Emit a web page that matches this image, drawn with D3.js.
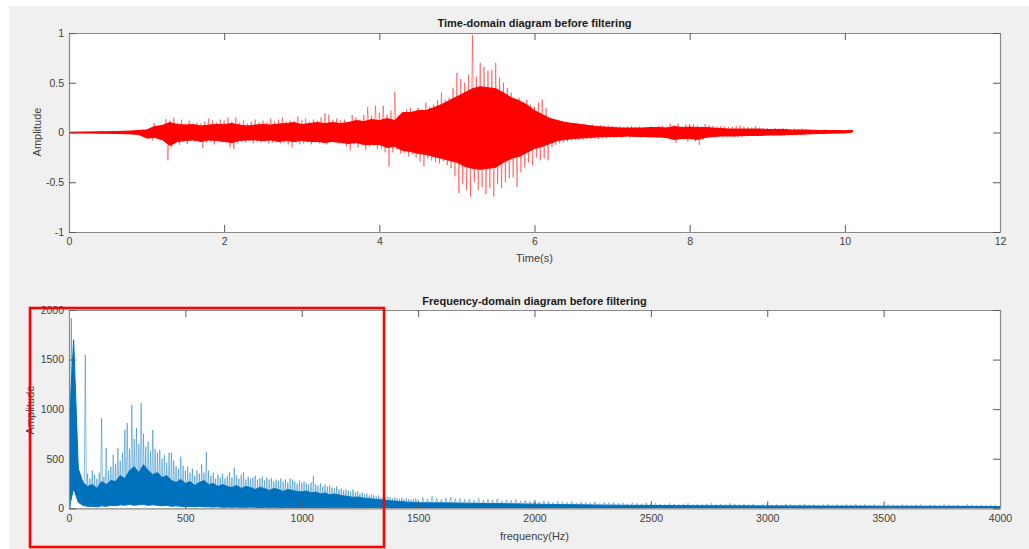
<!DOCTYPE html>
<html>
<head>
<meta charset="utf-8">
<script src="https://cdn.jsdelivr.net/npm/d3@7"></script>
<style>
  html, body { margin: 0; padding: 0; background: #ffffff; }
  svg { display: block; font-family: "Liberation Sans", Arial, sans-serif; }
</style>
</head>
<body>
<svg id="chart" width="1029" height="549"></svg>
<script>
// ---------------- DATA ----------------
const timeTitle = "Time-domain diagram before filtering";
const freqTitle = "Frequency-domain diagram before filtering";
const timeXTicks = [0, 2, 4, 6, 8, 10, 12];
const timeYTicks = [-1, -0.5, 0, 0.5, 1];
const freqXTicks = [0, 500, 1000, 1500, 2000, 2500, 3000, 3500, 4000];
const freqYTicks = [0, 500, 1000, 1500, 2000];

// time signal, sampled every 0.05 s from 0 to 10.1 s: local max / local min (spikes)
const timeStep = 0.05;
const timeUpper = [
  0.003,0.004,0.004,0.005,0.006,0.007,0.008,0.008,0.009,0.010,
  0.010,0.011,0.012,0.013,0.014,0.016,0.018,0.022,0.030,0.035,
  0.030,0.020,0.095,0.060,0.080,0.135,0.120,0.150,0.100,0.130,
  0.090,0.120,0.080,0.100,0.090,0.110,0.140,0.120,0.100,0.130,
  0.120,0.150,0.110,0.150,0.100,0.120,0.090,0.110,0.130,0.100,
  0.120,0.100,0.140,0.110,0.130,0.150,0.110,0.120,0.110,0.160,
  0.120,0.140,0.110,0.130,0.120,0.150,0.195,0.180,0.130,0.140,
  0.120,0.130,0.100,0.175,0.150,0.130,0.180,0.255,0.170,0.270,
  0.200,0.270,0.180,0.220,0.410,0.170,0.200,0.230,0.250,0.210,
  0.250,0.230,0.300,0.260,0.280,0.330,0.400,0.330,0.350,0.450,
  0.600,0.540,0.500,0.580,0.980,0.560,0.700,0.660,0.620,0.630,
  0.700,0.550,0.500,0.450,0.400,0.320,0.350,0.300,0.330,0.280,
  0.260,0.300,0.330,0.250,0.150,0.120,0.130,0.100,0.110,0.095,
  0.090,0.095,0.080,0.085,0.075,0.080,0.070,0.075,0.065,0.070,
  0.065,0.060,0.065,0.055,0.060,0.065,0.055,0.060,0.050,0.055,
  0.060,0.055,0.065,0.070,0.060,0.090,0.070,0.090,0.060,0.080,
  0.085,0.080,0.070,0.060,0.085,0.075,0.065,0.060,0.065,0.060,
  0.055,0.060,0.065,0.070,0.060,0.055,0.050,0.065,0.050,0.045,
  0.045,0.040,0.045,0.040,0.045,0.040,0.035,0.040,0.035,0.040,
  0.030,0.025,0.030,0.025,0.025,0.030,0.025,0.020,0.025,0.020,
  0.020,0.025,0.025
];
const timeLower = [
  -0.003,-0.004,-0.004,-0.005,-0.006,-0.006,-0.007,-0.008,-0.009,-0.010,
  -0.010,-0.011,-0.012,-0.013,-0.014,-0.015,-0.017,-0.020,-0.025,-0.035,
  -0.060,-0.080,-0.050,-0.080,-0.070,-0.280,-0.150,-0.060,-0.125,-0.090,
  -0.115,-0.070,-0.090,-0.070,-0.155,-0.100,-0.090,-0.120,-0.080,-0.100,
  -0.100,-0.150,-0.170,-0.110,-0.090,-0.100,-0.080,-0.110,-0.090,-0.100,
  -0.090,-0.110,-0.100,-0.080,-0.110,-0.100,-0.120,-0.150,-0.100,-0.120,
  -0.110,-0.090,-0.120,-0.100,-0.110,-0.090,-0.120,-0.090,-0.100,-0.110,
  -0.090,-0.140,-0.180,-0.120,-0.150,-0.130,-0.170,-0.140,-0.120,-0.170,
  -0.160,-0.200,-0.340,-0.200,-0.170,-0.210,-0.200,-0.240,-0.220,-0.250,
  -0.290,-0.340,-0.260,-0.280,-0.300,-0.310,-0.290,-0.330,-0.360,-0.440,
  -0.610,-0.520,-0.580,-0.645,-0.500,-0.580,-0.550,-0.620,-0.560,-0.645,
  -0.520,-0.560,-0.500,-0.460,-0.450,-0.550,-0.400,-0.350,-0.300,-0.330,
  -0.250,-0.280,-0.260,-0.280,-0.150,-0.125,-0.110,-0.100,-0.090,-0.080,
  -0.075,-0.070,-0.075,-0.065,-0.070,-0.060,-0.065,-0.055,-0.060,-0.050,
  -0.050,-0.045,-0.050,-0.045,-0.050,-0.040,-0.045,-0.050,-0.040,-0.045,
  -0.045,-0.050,-0.045,-0.050,-0.060,-0.070,-0.105,-0.060,-0.070,-0.090,
  -0.060,-0.090,-0.125,-0.070,-0.050,-0.045,-0.050,-0.040,-0.045,-0.040,
  -0.040,-0.045,-0.040,-0.045,-0.040,-0.035,-0.035,-0.030,-0.030,-0.030,
  -0.025,-0.030,-0.025,-0.025,-0.020,-0.025,-0.020,-0.025,-0.020,-0.020,
  -0.015,-0.010,-0.015,-0.010,-0.010,-0.005,-0.010,-0.005,-0.008,-0.005,
  0.000,0.005,0.015
];
// dense (solid) core of the time trace, every 0.1 s from 0 to 10.1 s
const coreTimeStep = 0.1;
const timeCoreUpper = [
  0.003,0.004,0.005,0.006,0.007,0.008,0.010,0.012,0.015,0.020,
  0.025,0.060,0.070,0.100,0.080,0.075,0.080,0.065,0.075,0.080,
  0.080,0.090,0.075,0.065,0.075,0.080,0.075,0.085,0.090,0.100,
  0.080,0.090,0.100,0.090,0.100,0.090,0.100,0.120,0.110,0.130,
  0.120,0.140,0.120,0.200,0.200,0.220,0.220,0.250,0.280,0.320,
  0.360,0.400,0.440,0.460,0.450,0.440,0.400,0.350,0.320,0.280,
  0.220,0.180,0.140,0.120,0.100,0.090,0.080,0.070,0.060,0.055,
  0.050,0.045,0.045,0.045,0.045,0.050,0.050,0.045,0.060,0.050,
  0.055,0.050,0.050,0.045,0.040,0.035,0.035,0.035,0.035,0.035,
  0.030,0.030,0.030,0.025,0.025,0.025,0.022,0.020,0.020,0.020,
  0.018,0.022
];
const timeCoreLower = [
  -0.003,-0.004,-0.005,-0.006,-0.007,-0.008,-0.010,-0.012,-0.014,-0.020,
  -0.055,-0.050,-0.070,-0.130,-0.090,-0.080,-0.075,-0.090,-0.075,-0.080,
  -0.090,-0.100,-0.080,-0.075,-0.075,-0.080,-0.075,-0.090,-0.080,-0.090,
  -0.080,-0.090,-0.090,-0.100,-0.090,-0.100,-0.110,-0.100,-0.120,-0.120,
  -0.120,-0.150,-0.140,-0.180,-0.190,-0.210,-0.220,-0.240,-0.260,-0.280,
  -0.300,-0.340,-0.360,-0.370,-0.360,-0.350,-0.300,-0.260,-0.240,-0.200,
  -0.160,-0.140,-0.110,-0.080,-0.070,-0.060,-0.055,-0.050,-0.045,-0.040,
  -0.040,-0.040,-0.035,-0.040,-0.040,-0.045,-0.045,-0.050,-0.070,-0.060,
  -0.060,-0.070,-0.050,-0.040,-0.035,-0.035,-0.035,-0.030,-0.030,-0.030,
  -0.025,-0.025,-0.025,-0.020,-0.018,-0.015,-0.012,-0.010,-0.008,-0.006,
  -0.004,0.005
];

// spectrum, part A: 0..1500 Hz every 10 Hz (local max / local min)
const freqStepA = 10;
const freqUpperA = [
  1350,1916,1500,900,420,330,280,1546,350,300,
  380,340,300,360,910,320,608,380,420,540,
  450,610,480,560,790,860,600,1042,700,810,
  650,1060,750,620,672,580,790,600,560,590,
  500,540,460,560,560,480,420,400,520,430,
  380,420,360,400,330,380,350,440,360,571,
  380,330,360,300,340,310,350,300,330,360,
  310,410,330,300,340,360,290,320,300,310,
  330,290,300,320,280,310,290,300,270,290,
  280,300,270,290,260,300,290,270,250,280,
  260,270,250,240,260,325,240,230,250,220,
  240,220,230,210,200,220,190,200,180,190,
  180,170,190,160,170,150,160,140,150,130,
  140,130,120,130,110,120,100,115,110,100,
  110,100,95,105,90,100,95,85,90,100,85
];
const freqLowerA = [
  0,500,300,150,80,40,20,30,20,40,
  30,60,20,50,40,80,30,60,40,90,
  50,100,60,120,40,90,150,70,110,60,
  100,80,150,60,90,120,50,100,70,60,
  80,50,90,40,70,60,30,80,50,40,
  60,30,70,40,50,30,60,40,30,50,
  40,30,50,20,40,30,50,20,30,40,
  30,40,20,30,50,20,30,40,20,30,
  20,30,40,20,30,20,30,20,40,20,
  30,20,20,30,20,30,20,20,30,20,
  20,20,15,20,25,15,20,15,20,15,
  15,20,15,10,15,20,10,15,10,15,
  10,15,10,10,15,10,10,15,10,10,
  10,8,10,12,8,10,8,10,6,8,
  8,6,8,10,6,8,5,8,6,5,6
];
// spectrum, part B: 1520..4000 Hz every 20 Hz
const freqStartB = 1520;
const freqStepB = 20;
const freqUpperB = [
  110,95,120,100,90,105,115,95,100,90,
  95,85,100,80,90,85,95,75,85,80,
  90,75,80,70,85,65,75,70,60,70,
  65,60,70,55,65,60,55,65,50,60,
  55,60,50,55,45,55,50,45,55,45,
  50,45,40,50,45,40,45,50,40,45,
  40,45,50,40,45,40,50,45,40,45,
  40,45,35,40,45,35,40,35,45,40,
  35,40,45,35,40,35,40,45,35,40,
  35,40,35,45,35,40,35,40,30,35,
  40,35,30,40,35,30,35,40,30,35,
  35,30,40,35,30,35,30,40,35,30,
  35,30,35,30,25
];
const freqLowerB = [
  6,4,8,5,3,7,5,4,6,3,
  5,3,6,4,2,5,3,4,2,5,
  3,4,2,5,3,2,4,3,2,3,
  4,2,3,2,4,3,2,3,2,4,
  2,3,2,4,2,3,2,2,3,2,
  3,2,2,3,2,4,2,3,2,2,
  2,3,2,2,3,2,2,3,2,3,
  2,2,3,2,2,3,2,2,3,2,
  3,2,2,3,2,2,3,2,2,3,
  2,3,2,2,3,2,2,3,2,2,
  3,2,2,3,2,2,3,2,3,2,
  2,3,2,2,3,2,3,2,2,3,
  2,3,2,2,3
];
// dense core of the spectrum: 0..1500 Hz every 20 Hz, then 1600..4000 Hz every 100 Hz
const coreFreqStepA = 20;
const freqCoreUpperA = [
  800,1700,400,260,220,240,200,270,240,280,
  270,330,300,380,420,360,440,380,340,360,
  310,330,280,260,290,250,270,230,260,280,
  240,250,220,240,220,210,230,200,220,210,
  190,210,200,180,200,190,170,190,180,170,
  165,175,155,165,145,155,135,145,135,125,
  120,110,115,105,100,95,90,85,80,75,
  72,68,65,60,58,55
];
const freqCoreLowerA = [
  0,200,60,30,20,20,15,25,20,30,
  25,35,30,40,30,35,40,30,35,30,
  25,30,20,25,20,15,20,15,20,15,
  15,12,15,10,12,10,12,10,10,12,
  10,8,10,8,10,8,8,10,8,8,
  8,6,8,6,6,8,6,5,6,5,
  5,5,4,5,4,4,5,4,4,3,
  3,4,3,3,4,3
];
const coreFreqStartB = 1600;
const coreFreqStepB = 100;
const freqCoreUpperB = [
  55,52,48,45,42,38,35,32,30,29,
  27,26,26,25,24,24,23,22,22,21,
  21,20,20,19,18
];
const freqCoreLowerB = [
  3,3,2,3,3,2,3,2,3,2,
  3,2,2,3,2,2,3,2,2,3,
  2,2,3,2,2
];

// ---------------- DRAWING ----------------
const svg = d3.select("#chart");
const W = 1029, H = 549;

svg.append("rect").attr("x", 9).attr("y", 6).attr("width", W - 9).attr("height", H - 6)
  .attr("fill", "#f0f0f0");

const boxColor = "#8a8a8a";
const tickColor = "#5a5a5a";
const labelColor = "#404040";
const fs = 10.5;

function drawAxes(g, x, y, xt, yt, left, top, right, bottom, xlabel, ylabel, title, ylabX, ylabY, xlabY, titleY) {
  g.append("rect").attr("x", left).attr("y", top).attr("width", right - left).attr("height", bottom - top)
    .attr("fill", "#ffffff");
  return function finish() {
    const ax = [
      g.append("g").attr("transform", `translate(0,${bottom})`)
        .call(d3.axisBottom(x).tickValues(xt).tickSizeInner(-7).tickSizeOuter(0).tickPadding(6).tickFormat(d3.format("d"))),
      g.append("g").attr("transform", `translate(0,${top})`)
        .call(d3.axisTop(x).tickValues(xt).tickSizeInner(-7).tickSizeOuter(0).tickFormat("")),
      g.append("g").attr("transform", `translate(${left},0)`)
        .call(d3.axisLeft(y).tickValues(yt).tickSizeInner(-7).tickSizeOuter(0).tickPadding(5).tickFormat(d => String(d))),
      g.append("g").attr("transform", `translate(${right},0)`)
        .call(d3.axisRight(y).tickValues(yt).tickSizeInner(-7).tickSizeOuter(0).tickFormat(""))
    ];
    ax.forEach(a => {
      a.select(".domain").attr("stroke", boxColor).attr("stroke-width", 1.2);
      a.selectAll(".tick line").attr("stroke", tickColor).attr("stroke-width", 1);
      a.selectAll(".tick text").attr("fill", labelColor).style("font-size", fs + "px")
        .style("font-family", '"Liberation Sans", Arial, sans-serif');
    });
    g.append("text").attr("x", (left + right) / 2).attr("y", xlabY).attr("text-anchor", "middle")
      .attr("dominant-baseline", "central")
      .attr("fill", labelColor).style("font-size", (fs + 0.5) + "px").text(xlabel);
    g.append("text").attr("transform", `translate(${ylabX},${ylabY}) rotate(-90)`).attr("text-anchor", "middle")
      .attr("dominant-baseline", "central")
      .attr("fill", labelColor).style("font-size", (fs + 0.5) + "px").text(ylabel);
    g.append("text").attr("x", (left + right) / 2).attr("y", titleY).attr("text-anchor", "middle")
      .attr("dominant-baseline", "central")
      .attr("fill", "#1a1a1a").style("font-size", (fs + 0.5) + "px").style("font-weight", "bold").text(title);
  };
}

// ---------- top axes: time domain ----------
const L = 69, R = 1000;
const t1 = 33, b1 = 232;
const xT = d3.scaleLinear().domain([0, 12]).range([L, R]);
const yT = d3.scaleLinear().domain([-1, 1]).range([b1, t1]);
const gTop = svg.append("g");
const finishTop = drawAxes(gTop, xT, yT, timeXTicks, timeYTicks, L, t1, R, b1,
  "Time(s)", "Amplitude", timeTitle, 37, 132, 258, 23);

svg.append("clipPath").attr("id", "clipTop").append("rect")
  .attr("x", L).attr("y", t1).attr("width", R - L).attr("height", b1 - t1);

const timePts = [];
timeUpper.forEach((u, i) => {
  const t = i * timeStep;
  timePts.push([t, u]);
  if (i < timeUpper.length - 1) timePts.push([t + timeStep / 2, timeLower[i]]);
});
gTop.append("path").datum(timePts)
  .attr("clip-path", "url(#clipTop)")
  .attr("fill", "none").attr("stroke", "#ff0000").attr("stroke-width", 0.7).attr("stroke-opacity", 0.6)
  .attr("d", d3.line().x(d => xT(d[0])).y(d => yT(d[1])));

const timeCore = timeCoreUpper.map((u, i) => ({ t: i * coreTimeStep, hi: u, lo: timeCoreLower[i] }));
gTop.append("path").datum(timeCore)
  .attr("clip-path", "url(#clipTop)")
  .attr("fill", "#ff0000").attr("stroke", "#ff0000").attr("stroke-width", 1)
  .attr("d", d3.area().x(d => xT(d.t)).y0(d => yT(d.lo)).y1(d => yT(d.hi)));
finishTop();

// ---------- bottom axes: frequency domain ----------
const t2 = 310, b2 = 508.3;
const xF = d3.scaleLinear().domain([0, 4000]).range([L, R]);
const yF = d3.scaleLinear().domain([0, 2000]).range([b2, t2]);
const gBot = svg.append("g");
const finishBot = drawAxes(gBot, xF, yF, freqXTicks, freqYTicks, L, t2, R, b2,
  "frequency(Hz)", "Amplitude", freqTitle, 30, 410, 536, 301);

svg.append("clipPath").attr("id", "clipBot").append("rect")
  .attr("x", L).attr("y", t2).attr("width", R - L).attr("height", b2 - t2);

const freqPts = [];
freqUpperA.forEach((u, i) => {
  const f = i * freqStepA;
  freqPts.push([f, u]);
  freqPts.push([f + freqStepA / 2, freqLowerA[i]]);
});
freqUpperB.forEach((u, i) => {
  const f = freqStartB + i * freqStepB;
  freqPts.push([f - freqStepB / 2, freqLowerB[i]]);
  freqPts.push([f, u]);
});
gBot.append("path").datum(freqPts)
  .attr("clip-path", "url(#clipBot)")
  .attr("fill", "none").attr("stroke", "#0072bd").attr("stroke-width", 0.7).attr("stroke-opacity", 0.65)
  .attr("d", d3.line().x(d => xF(d[0])).y(d => yF(d[1])));

const freqCore = freqCoreUpperA.map((u, i) => ({ f: i * coreFreqStepA, hi: u, lo: freqCoreLowerA[i] }))
  .concat(freqCoreUpperB.map((u, i) => ({ f: coreFreqStartB + i * coreFreqStepB, hi: u, lo: freqCoreLowerB[i] })));
gBot.append("path").datum(freqCore)
  .attr("clip-path", "url(#clipBot)")
  .attr("fill", "#0072bd").attr("stroke", "#0072bd").attr("stroke-width", 1)
  .attr("d", d3.area().x(d => xF(d.f)).y0(d => yF(d.lo)).y1(d => yF(d.hi)));
finishBot();

// ---------- red highlight rectangle ----------
svg.append("rect").attr("x", 30).attr("y", 308).attr("width", 354).attr("height", 239)
  .attr("fill", "none").attr("stroke", "#ff0000").attr("stroke-width", 2.6);
</script>
</body>
</html>
